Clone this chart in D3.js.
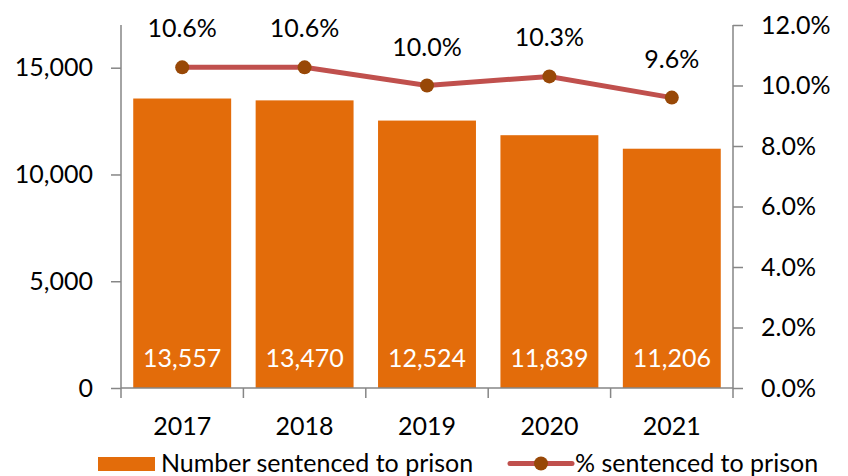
<!DOCTYPE html>
<html><head><meta charset="utf-8">
<script src="https://cdn.jsdelivr.net/npm/d3@7"></script>
<style>body{margin:0;background:#fff}svg{display:block;font-family:Lato,"Open Sans",sans-serif}</style>
</head><body><svg id="c" width="848" height="476"></svg>
<script>
const years = ["2017","2018","2019","2020","2021"];
const numberSentenced = [13557,13470,12524,11839,11206];
const pctSentenced = [10.6,10.6,10.0,10.3,9.6];
const leftTicks = [0,5000,10000,15000];
const rightTicks = [0,2,4,6,8,10,12];
const seriesNames = ["Number sentenced to prison","% sentenced to prison"];

const svg = d3.select("#c");
const x0=121, x1=733, yTop=25, yBase=388;
const fs = 25;
const axisColor = "#868686";
const x = d3.scaleBand().domain(years).range([x0,x1]).paddingInner(0.2).paddingOuter(0.1);
const yL = d3.scaleLinear().domain([0,17000]).range([yBase,yTop]);
const yR = d3.scaleLinear().domain([0,12]).range([yBase,yTop]);

// bars
svg.selectAll("rect.bar").data(years).join("rect").attr("class","bar")
  .attr("x",d=>x(d)).attr("width",x.bandwidth())
  .attr("y",(d,i)=>yL(numberSentenced[i])).attr("height",(d,i)=>yBase-yL(numberSentenced[i]))
  .attr("fill","#E36C0A");
svg.selectAll("text.blab").data(years).join("text").attr("class","blab")
  .attr("x",d=>x(d)+x.bandwidth()/2).attr("y",367).attr("text-anchor","middle")
  .attr("fill","#fff").attr("font-size",fs).text((d,i)=>d3.format(",")(numberSentenced[i]));

// axes
const gL = svg.append("g").attr("transform",`translate(${x0},0)`)
  .call(d3.axisLeft(yL).tickValues(leftTicks).tickFormat(d3.format(",")).tickSize(10).tickPadding(18));
const gR = svg.append("g").attr("transform",`translate(${x1},0)`)
  .call(d3.axisRight(yR).tickValues(rightTicks).tickFormat(d=>d.toFixed(1)+"%").tickSize(10).tickPadding(18));
const xTicks = svg.append("g").attr("transform",`translate(0,${yBase})`);
xTicks.append("line").attr("x1",x0).attr("x2",x1).attr("stroke",axisColor).attr("stroke-width",1.5);
const bounds = years.map(d=>x(d)-x.step()*x.paddingInner()/2).concat([x1]);
bounds[0]=x0;
xTicks.selectAll("line.t").data(bounds).join("line").attr("class","t")
  .attr("x1",d=>d).attr("x2",d=>d).attr("y1",0).attr("y2",10).attr("stroke",axisColor).attr("stroke-width",1.5);
xTicks.selectAll("text").data(years).join("text")
  .attr("x",d=>x(d)+x.bandwidth()/2).attr("y",47).attr("text-anchor","middle")
  .attr("font-size",fs).attr("fill","#000").text(d=>d);
[gL,gR].forEach(g=>{
  g.selectAll(".domain").attr("stroke",axisColor).attr("stroke-width",1.5).attr("d", g===gL?`M0,${yTop}V${yBase}`:`M0,${yTop}V${yBase}`);
  g.selectAll(".tick line").attr("stroke",axisColor).attr("stroke-width",1.5);
  g.selectAll(".tick text").attr("font-size",fs).attr("fill","#000").attr("font-family","Lato, 'Open Sans', sans-serif");
});

// line
const cx = d=>x(d)+x.bandwidth()/2;
svg.append("path").datum(years)
  .attr("d",d3.line().x(cx).y((d,i)=>yR(pctSentenced[i])))
  .attr("fill","none").attr("stroke","#C0504D").attr("stroke-width",5);
svg.selectAll("circle.pt").data(years).join("circle").attr("class","pt")
  .attr("cx",cx).attr("cy",(d,i)=>yR(pctSentenced[i])).attr("r",7).attr("fill","#984807");
svg.selectAll("text.plab").data(years).join("text").attr("class","plab")
  .attr("x",cx).attr("y",(d,i)=>yR(pctSentenced[i])-30).attr("text-anchor","middle")
  .attr("font-size",fs).attr("fill","#000").text((d,i)=>pctSentenced[i].toFixed(1)+"%");

// legend
const lg = svg.append("g");
lg.append("rect").attr("x",98).attr("y",457).attr("width",57).attr("height",14).attr("fill","#E36C0A");
lg.append("text").attr("x",161).attr("y",472).attr("font-size",fs).attr("fill","#000").text(seriesNames[0]);
lg.append("line").attr("x1",510).attr("x2",572).attr("y1",463.5).attr("y2",463.5).attr("stroke","#C0504D").attr("stroke-width",5).attr("stroke-linecap","round");
lg.append("circle").attr("cx",541).attr("cy",463.5).attr("r",7).attr("fill","#984807");
lg.append("text").attr("x",575).attr("y",472).attr("font-size",fs).attr("fill","#000").text(seriesNames[1]);
</script></body></html>
